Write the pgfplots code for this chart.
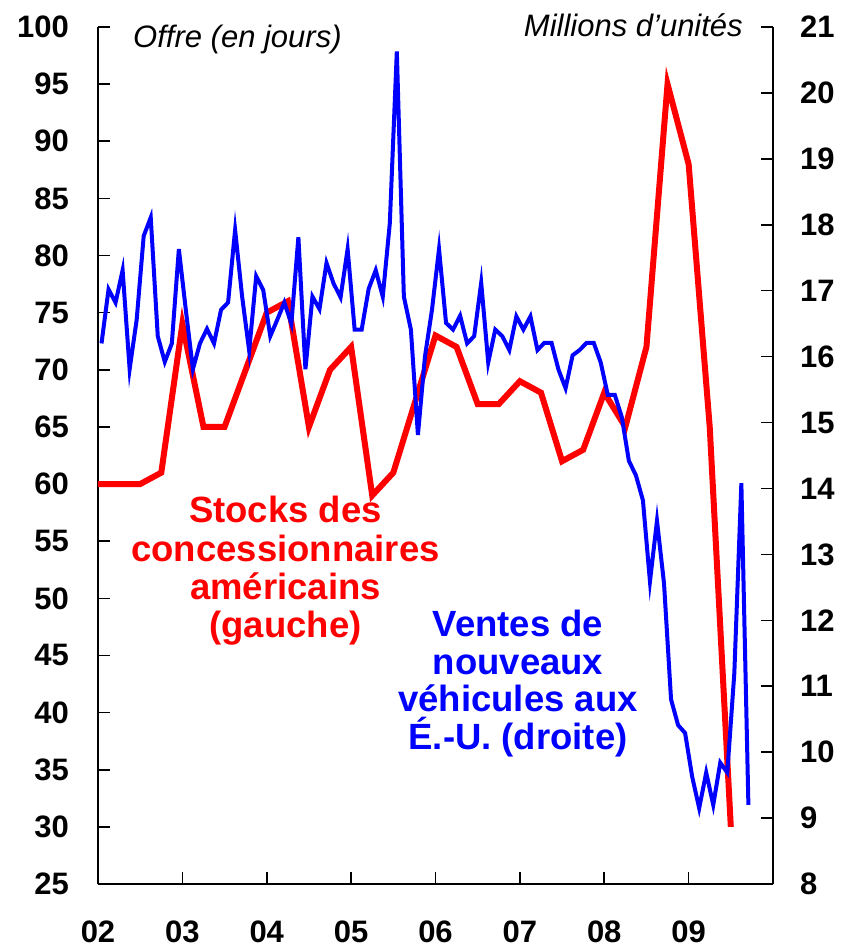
\documentclass[border=0pt]{standalone}
\usepackage{pgfplots}
\pgfplotsset{compat=1.18}
\usepackage{fontspec}
\setmainfont{Liberation Sans}

\pgfplotstableread{
q v
0 60
1 60
2 60
3 61
4 74
5 65
6 65
7 70
8 75
9 76
10 65
11 70
12 72
13 59
14 61
15 67
16 73
17 72
18 67
19 67
20 69
21 68
22 62
23 63
24 68
25 65
26 72
27 95
28 88
29 65
30 30
}\stocks

\pgfplotstableread{
m v
0.5 16.20
1.5 17.02
2.5 16.82
3.5 17.31
4.5 15.81
5.5 16.56
6.5 17.83
7.5 18.11
8.5 16.31
9.5 15.92
10.5 16.20
11.5 17.63
12.5 16.70
13.5 15.81
14.5 16.20
15.5 16.42
16.5 16.20
17.5 16.71
18.5 16.82
19.5 17.92
20.5 16.91
21.5 16.09
22.5 17.22
23.5 17.01
24.5 16.31
25.5 16.56
26.5 16.82
27.5 16.50
28.5 17.81
29.5 15.81
30.5 16.91
31.5 16.72
32.5 17.42
33.5 17.11
34.5 16.90
35.5 17.63
36.5 16.41
37.5 16.41
38.5 17.03
39.5 17.31
40.5 16.91
41.5 18.02
42.5 20.63
43.5 16.91
44.5 16.41
45.5 14.81
46.5 16.00
47.5 16.71
48.5 17.63
49.5 16.51
50.5 16.41
51.5 16.62
52.5 16.20
53.5 16.31
54.5 17.12
55.5 15.91
56.5 16.41
57.5 16.31
58.5 16.10
59.5 16.61
60.5 16.41
61.5 16.61
62.5 16.10
63.5 16.21
64.5 16.21
65.5 15.80
66.5 15.52
67.5 16.02
68.5 16.10
69.5 16.21
70.5 16.21
71.5 15.91
72.5 15.42
73.5 15.42
74.5 15.08
75.5 14.42
76.5 14.20
77.5 13.82
78.5 12.59
79.5 13.51
80.5 12.56
81.5 10.80
82.5 10.41
83.5 10.29
84.5 9.63
85.5 9.15
86.5 9.69
87.5 9.20
88.5 9.84
89.5 9.69
90.5 11.20
91.5 14.08
92.5 9.20
}\ventes

\begin{document}
\begin{tikzpicture}
\begin{axis}[
  at={(0pt,0pt)}, anchor=south west,
  scale only axis, width=675pt, height=857pt,
  xmin=0, xmax=32, ymin=25, ymax=100,
  axis x line*=bottom, axis y line*=left,
  xtick={0,4,...,28}, xticklabels={02,03,04,05,06,07,08,09},
  ytick={25,30,...,100},
  tick align=inside, major tick length=12pt,
  tick style={black, line width=1.6pt},
  axis line style={black, line width=1.6pt},
  tick label style={font=\fontsize{31}{31}\selectfont\bfseries},
  /pgf/number format/assume math mode=true,
  yticklabel style={anchor=east, inner sep=0pt, xshift=-29pt},
  xticklabel style={anchor=north, inner sep=0pt, yshift=-37pt},
  clip=false,
]
\addplot[red, line width=6pt, no markers] table[x=q, y=v] {\stocks};
\end{axis}
\begin{axis}[
  at={(0pt,0pt)}, anchor=south west,
  scale only axis, width=675pt, height=857pt,
  xmin=0, xmax=96, ymin=8, ymax=21,
  axis x line=none, axis y line*=right,
  ytick={8,9,...,21},
  tick align=inside, major tick length=12pt,
  tick style={black, line width=1.6pt},
  axis line style={black, line width=1.6pt},
  tick label style={font=\fontsize{31}{31}\selectfont\bfseries},
  /pgf/number format/assume math mode=true,
  yticklabel style={anchor=west, inner sep=0pt, xshift=27pt},
  clip=false,
]
\addplot[blue, line width=4pt, no markers] table[x=m, y=v] {\ventes};
\end{axis}

\node[anchor=base west, inner sep=0pt, font=\fontsize{31}{31}\selectfont\itshape] at (35pt,836pt) {Offre (en jours)};
\node[anchor=base east, inner sep=0pt, font=\fontsize{31}{31}\selectfont\itshape] at (645pt,847pt) {Millions d’unités};

\begin{scope}[every node/.style={anchor=base, inner sep=0pt, font=\fontsize{36.5}{38}\selectfont\bfseries}]
\node[red] at (187.5pt,361pt) {Stocks des};
\node[red] at (187.5pt,322.5pt) {concessionnaires};
\node[red] at (187.5pt,284pt) {américains};
\node[red] at (187.5pt,246pt) {(gauche)};
\node[blue] at (420pt,247pt) {Ventes de};
\node[blue] at (420pt,209.5pt) {nouveaux};
\node[blue] at (420pt,172pt) {véhicules aux};
\node[blue] at (420pt,134.5pt) {É.-U. (droite)};
\end{scope}

\pgfresetboundingbox
\path[use as bounding box] (-98pt,-64pt) rectangle (744pt,884pt);
\end{tikzpicture}
\end{document}
